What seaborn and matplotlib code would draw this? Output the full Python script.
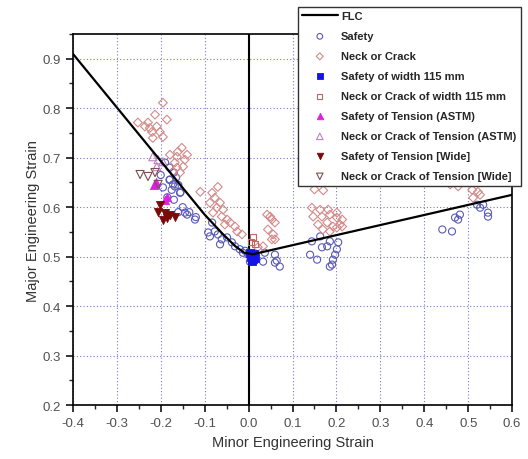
import numpy as np
import matplotlib
matplotlib.use("Agg")
import matplotlib.pyplot as plt
from matplotlib.ticker import MultipleLocator
import seaborn as sns

# FLC curve
flc_x = [-0.4, -0.1, -0.06, -0.03, -0.01, 0.01, 0.03, 0.6]
flc_y = [0.91, 0.585, 0.547, 0.521, 0.508, 0.505, 0.509, 0.625]

safety_x = [-0.19, -0.18, -0.17, -0.165, -0.18, -0.16, -0.175, -0.155, -0.185, -0.17, -0.15, -0.16,
            -0.14, -0.135, -0.12, -0.2, -0.195, -0.156, -0.168, -0.179, -0.172, -0.145, -0.122,
            -0.092, -0.088, -0.077, -0.07, -0.061, -0.065, -0.049, -0.038, -0.031, -0.02, -0.013,
            -0.001, 0.003, -0.008, -0.083,
            0.033, 0.037, 0.06, 0.06, 0.071, 0.064,
            0.144, 0.163, 0.167, 0.179, 0.185, 0.204, 0.201, 0.197, 0.192, 0.19, 0.185, 0.14, 0.156,
            0.441, 0.463, 0.47, 0.481, 0.477, 0.527, 0.534, 0.545, 0.545, 0.52]
safety_y = [0.69, 0.68, 0.67, 0.66, 0.655, 0.645, 0.635, 0.63, 0.62, 0.615, 0.6, 0.59,
            0.585, 0.59, 0.58, 0.665, 0.64, 0.629, 0.642, 0.656, 0.646, 0.589, 0.575,
            0.549, 0.541, 0.551, 0.545, 0.535, 0.525, 0.539, 0.529, 0.521, 0.515, 0.508,
            0.504, 0.49, 0.512, 0.569,
            0.49, 0.508, 0.504, 0.488, 0.48, 0.492,
            0.531, 0.541, 0.519, 0.521, 0.531, 0.529, 0.515, 0.504, 0.494, 0.484, 0.48, 0.504, 0.494,
            0.555, 0.551, 0.579, 0.585, 0.575, 0.599, 0.605, 0.589, 0.581, 0.605]

neck_x = [-0.195, -0.213, -0.186, -0.252, -0.229, -0.209, -0.22, -0.202, -0.195, -0.218, -0.225, -0.236,
          -0.179, -0.163, -0.152, -0.161, -0.14, -0.168, -0.149, -0.163, -0.145, -0.156, -0.172,
          -0.11, -0.083, -0.07, -0.077, -0.088, -0.065, -0.072, -0.058, -0.081, -0.061, -0.049,
          -0.042, -0.031, -0.054, -0.026, -0.015,
          0.042, 0.053, 0.06, 0.044, 0.056, 0.053, 0.06, 0.049, 0.021, 0.033,
          0.144, 0.163, 0.181, 0.201, 0.147, 0.167, 0.185, 0.201, 0.213, 0.158, 0.179, 0.192,
          0.208, 0.169, 0.185, 0.201, 0.213, 0.15, 0.17,
          0.459, 0.477, 0.509, 0.522, 0.527, 0.511]
neck_y = [0.811, 0.787, 0.777, 0.771, 0.771, 0.763, 0.752, 0.752, 0.742, 0.74, 0.76, 0.763,
          0.706, 0.702, 0.72, 0.712, 0.706, 0.69, 0.682, 0.68, 0.696, 0.67, 0.672,
          0.631, 0.629, 0.641, 0.619, 0.609, 0.609, 0.599, 0.595, 0.589, 0.581, 0.575,
          0.569, 0.561, 0.565, 0.551, 0.545,
          0.585, 0.575, 0.569, 0.555, 0.545, 0.535, 0.535, 0.581, 0.519, 0.521,
          0.599, 0.595, 0.595, 0.589, 0.581, 0.581, 0.585, 0.579, 0.575, 0.565, 0.569, 0.561,
          0.565, 0.555, 0.551, 0.559, 0.561, 0.636, 0.634,
          0.646, 0.642, 0.635, 0.631, 0.625, 0.619]

w115_safe_x = [0.005, 0.01, 0.012, 0.008, 0.003, 0.015]
w115_safe_y = [0.5, 0.495, 0.505, 0.492, 0.507, 0.498]

w115_neck_x = [0.005, 0.015, 0.01]
w115_neck_y = [0.53, 0.525, 0.54]

astm_safe_x = [-0.19, -0.185, -0.21, -0.215]
astm_safe_y = [0.615, 0.62, 0.65, 0.645]

astm_neck_x = [-0.218, -0.206, -0.195, -0.209]
astm_neck_y = [0.702, 0.696, 0.692, 0.682]

wide_safe_x = [-0.202, -0.206, -0.19, -0.179, -0.168, -0.195, -0.186]
wide_safe_y = [0.605, 0.591, 0.589, 0.585, 0.581, 0.575, 0.579]

wide_neck_x = [-0.247, -0.229, -0.213, -0.206]
wide_neck_y = [0.666, 0.662, 0.67, 0.646]

sns.set_style("ticks")
plt.rcParams["font.family"] = ["Liberation Sans", "DejaVu Sans"]

fig = plt.figure(figsize=(5.28, 4.6), dpi=100)
ax = fig.add_axes([0.138, 0.117, 0.832, 0.807])

ax.axvline(0, color="black", lw=1.5, zorder=2)

handles = []
sns.lineplot(x=flc_x, y=flc_y, sort=False, color="black", lw=1.6, ax=ax, label="FLC", zorder=4, legend=False)
handles.append(ax.lines[-1])

series = [
    (safety_x, safety_y, "o", "#5a5ab8", False, 26, "Safety"),
    (neck_x, neck_y, "D", "#d48a8a", False, 20, "Neck or Crack"),
    (w115_safe_x, w115_safe_y, "s", "#1414e6", True, 30, "Safety of width 115 mm"),
    (w115_neck_x, w115_neck_y, "s", "#c86464", False, 20, "Neck or Crack of width 115 mm"),
    (astm_safe_x, astm_safe_y, "^", "#e020e0", True, 34, "Safety of Tension (ASTM)"),
    (astm_neck_x, astm_neck_y, "^", "#c080c8", False, 34, "Neck or Crack of Tension (ASTM)"),
    (wide_safe_x, wide_safe_y, "v", "#7a0a0a", True, 34, "Safety of Tension [Wide]"),
    (wide_neck_x, wide_neck_y, "v", "#7a5050", False, 34, "Neck or Crack of Tension [Wide]"),
]
for xs, ys, m, c, filled, s, lab in series:
    if filled:
        sns.scatterplot(x=xs, y=ys, marker=m, s=s, color=c, edgecolor=c, linewidth=0.6,
                        ax=ax, label=lab, legend=False, zorder=3)
    else:
        sns.scatterplot(x=xs, y=ys, marker=m, s=s, facecolor="none", edgecolor=c, linewidth=0.8,
                        ax=ax, label=lab, legend=False, zorder=3)
    handles.append(ax.collections[-1])

ax.set_xlim(-0.4, 0.6)
ax.set_ylim(0.2, 0.95)
ax.xaxis.set_major_locator(MultipleLocator(0.1))
ax.xaxis.set_minor_locator(MultipleLocator(0.05))
ax.yaxis.set_major_locator(MultipleLocator(0.1))
ax.yaxis.set_minor_locator(MultipleLocator(0.05))
ax.set_xticklabels([f"{v:.1f}" for v in ax.get_xticks()])
ax.set_yticklabels([f"{v:.1f}" for v in ax.get_yticks()])
ax.grid(True, which="major", color="#7878c8", linestyle=(0, (1, 2)), lw=0.8)
ax.tick_params(which="major", direction="out", length=5, width=1.1, labelsize=9.5, colors="black",
               labelcolor="#505050")
ax.tick_params(which="minor", direction="out", length=3, width=1.0)
for sp in ax.spines.values():
    sp.set_visible(True)
    sp.set_color("black")
    sp.set_linewidth(1.2)

ax.set_xlabel("Minor Engineering Strain", fontsize=10.5, color="#333333", labelpad=4)
ax.set_ylabel("Major Engineering Strain", fontsize=10.5, color="#333333", labelpad=2)

labels = [h.get_label() for h in handles]
leg = fig.legend(handles, labels, loc="upper right", bbox_to_anchor=(0.986, 0.983),
                 prop={"family": ["Liberation Sans", "DejaVu Sans"], "weight": "bold", "size": 8.0},
                 frameon=True, fancybox=False, edgecolor="#333333", framealpha=1.0,
                 handlelength=3.2, handletextpad=0.3, borderpad=0.4, labelspacing=0.9,
                 borderaxespad=0.0, markerscale=0.8)
leg.get_frame().set_linewidth(1.0)
leg.set_zorder(10)

fig.savefig("out.png", dpi=100)
